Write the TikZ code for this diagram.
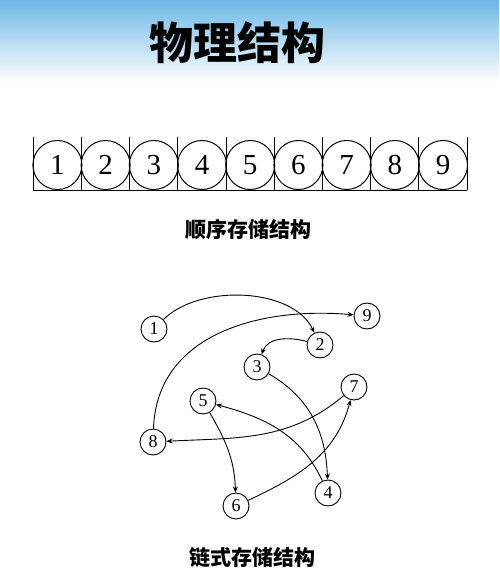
\documentclass[tikz,border=0pt]{standalone}
\usepackage{fontspec}
\setmainfont{Liberation Serif}
\newfontfamily\cjk{Noto Sans CJK SC}
\usetikzlibrary{arrows.meta}
\definecolor{skyblue}{RGB}{108,184,230}
\begin{document}
\begin{tikzpicture}[x=1pt,y=1pt,
  cell/.style={circle,draw,line width=1pt,minimum size=49pt,inner sep=0pt,font=\fontsize{29}{29}\selectfont},
  gnode/.style={circle,draw,line width=0.9pt,minimum size=26pt,inner sep=0pt,font=\fontsize{18}{18}\selectfont},
  link/.style={line width=0.9pt,-{Stealth[length=6pt,width=5pt]}},
  captext/.style={font=\cjk\bfseries\fontsize{21}{21}\selectfont}]
\useasboundingbox (0,0) rectangle (499,-575);
\shade[top color=skyblue,bottom color=white] (0,0) rectangle (499,-82);
\node[font=\cjk\bfseries\fontsize{44}{44}\selectfont] (title) at (237,-43) {物理结构};
% sequential storage
\foreach \i in {1,...,9}{
  \node[cell] (c\i) at ({33.3+48.2*(\i-0.5)},-165) {\i};
}
\foreach \i in {0,...,9}{
  \draw[line width=1pt] ({33.3+48.2*\i},-137) -- ({33.3+48.2*\i},-190);
}
\draw[line width=1pt] (33.3,-190) -- (467.1,-190);
\node[captext] (lab1) at (248,-229) {顺序存储结构};
% linked storage
\node[gnode] (n1) at (154,-329) {1};
\node[gnode] (n9) at (367,-316) {9};
\node[gnode] (n2) at (320,-345) {2};
\node[gnode] (n3) at (257,-367) {3};
\node[gnode] (n7) at (354,-387) {7};
\node[gnode] (n5) at (203,-401) {5};
\node[gnode] (n8) at (153,-442) {8};
\node[gnode] (n4) at (328,-493) {4};
\node[gnode] (n6) at (236,-506) {6};
\draw[link] (n1) to[out=45,in=115,looseness=0.85] (n2);
\draw[link] (n8) to[out=88,in=175,looseness=1.05] (n9);
\draw[link] (n2) to[out=165,in=70] (n3);
\draw[link] (n3) to[out=-30,in=92] (n4);
\draw[link] (n7) to[out=-140,in=3] (n8);
\draw[link] (n5) to[out=-60,in=92] (n6);
\draw[link] (n4) to[out=115,in=-15] (n5);
\draw[link] (n6) to[out=25,in=-105] (n7);
\node[captext] (lab2) at (252,-557) {链式存储结构};
\end{tikzpicture}
\end{document}
